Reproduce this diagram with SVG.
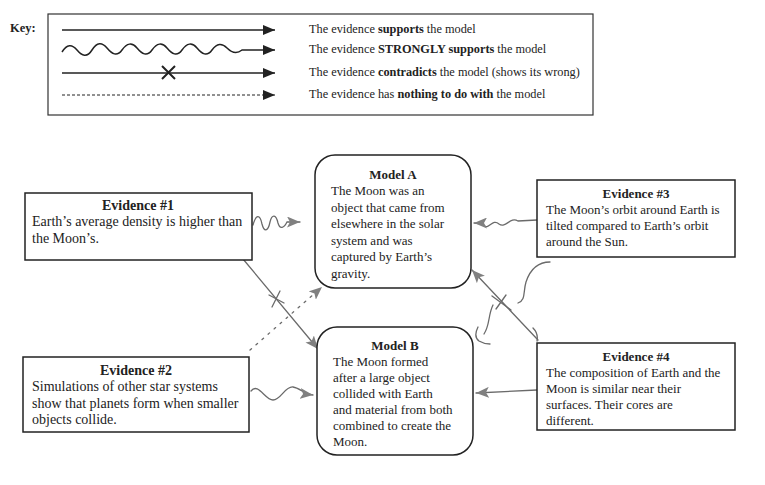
<svg xmlns="http://www.w3.org/2000/svg" width="765" height="485" viewBox="0 0 765 485">
<defs>
<style>
.box{fill:#fff;stroke:#222;stroke-width:1.5}
.t{font-family:"Liberation Serif","Times New Roman",serif;font-size:13px;fill:#222}
.t14{font-size:14px}
.b{font-weight:bold}
.k{font-family:"Liberation Serif","Times New Roman",serif;font-size:12.3px;fill:#222}
.kl{fill:none;stroke:#222;stroke-width:1.5}
.hand{fill:none;stroke:#6a6a6a;stroke-width:1.3;stroke-linecap:round}
</style>
<marker id="ka" markerUnits="userSpaceOnUse" markerWidth="12" markerHeight="10" refX="12" refY="5" orient="auto"><path d="M0,0 L12,5 L0,10 z" fill="#222"/></marker>
<marker id="ha" markerUnits="userSpaceOnUse" markerWidth="13" markerHeight="11" refX="13" refY="5.5" orient="auto"><path d="M0,0 L13,5.5 L0,11 L3,5.5 z" fill="#808080"/></marker>
</defs>
<rect width="765" height="485" fill="#fff"/>

<g id="key">
<text x="10" y="32" class="t b" style="font-size:12.5px">Key:</text>
<rect x="48" y="14" width="545" height="101" fill="none" stroke="#333" stroke-width="1.2"/>
<path class="kl" d="M62,30 L275,30" marker-end="url(#ka)"/>
<path class="kl" d="M62,52 C67,44 72,44 77,50 S87,58 92,50 S102,42 107,48 S117,57 122,50 S132,42 137,48 S147,57 152,50 S162,42 167,48 S177,57 182,50 S192,42 197,48 S207,57 212,50 S222,43 227,48 S237,54 242,50 L275,50" marker-end="url(#ka)"/>
<path class="kl" d="M62,73 L275,73" marker-end="url(#ka)"/>
<path d="M162,66 L175,79 M162,79 L175,66" stroke="#222" stroke-width="2"/>
<path d="M62,95 L275,95" fill="none" stroke="#222" stroke-width="1" stroke-dasharray="3,2" marker-end="url(#ka)"/>
<text x="309" y="33" class="k">The evidence <tspan class="b">supports</tspan> the model</text>
<text x="309" y="53" class="k">The evidence <tspan class="b">STRONGLY supports</tspan> the model</text>
<text x="309" y="76" class="k">The evidence <tspan class="b">contradicts</tspan> the model (shows its wrong)</text>
<text x="309" y="98" class="k">The evidence has <tspan class="b">nothing to do with</tspan> the model</text>
</g>

<g id="connectors">
<path class="hand" d="M253,225 C256,214 260,214 262,224 C264,232 268,232 270,222 C272,214 276,214 278,223 C280,230 284,228 287,222 L300,222" marker-end="url(#ha)"/>
<path class="hand" d="M243,259 L318,349" marker-end="url(#ha)"/>
<path class="hand" d="M269,295 L284,303 M272,307 L280,291" stroke="#555"/>
<path class="hand" d="M250,350 L322,287" stroke="#999" stroke-dasharray="2,6" stroke-width="2" marker-end="url(#ha)"/>
<path class="hand" d="M251,391 C258,382 265,400 273,400 C281,400 285,386 293,387 C300,388 304,394 313,395" marker-end="url(#ha)"/>
<path class="hand" d="M537,220 L518,221 C510,216 506,229 499,224 C492,218 489,231 483,225 C481,223 478,223 474,223" marker-end="url(#ha)"/>
<path class="hand" d="M538,340 L472,270" marker-end="url(#ha)"/>
<path class="hand" d="M492,296 L511,310 M496,309 L506,295" stroke="#555"/>
<path class="hand" d="M550,262 C538,262 530,270 526,282 C523,292 526,300 518,303"/>
<path class="hand" d="M493,305 C488,315 490,325 484,334 M478,327 C475,333 475,338 479,341 C484,344 488,344 490,344 M533,328 C537,332 538,336 537,341"/>
<path class="hand" d="M537,390 L476,393" marker-end="url(#ha)"/>
</g>

<g id="evidence1">
<rect class="box" x="25" y="193" width="227" height="67"/>
<text x="138" y="210" class="t t14 b" text-anchor="middle">Evidence #1</text>
<text x="32" y="226" class="t t14">Earth’s average density is higher than</text>
<text x="32" y="243" class="t t14">the Moon’s.</text>
</g>

<g id="evidence2">
<rect class="box" x="23" y="357" width="226" height="75"/>
<text x="136" y="375" class="t t14 b" text-anchor="middle">Evidence #2</text>
<text x="32" y="391" class="t t14">Simulations of other star systems</text>
<text x="32" y="408" class="t t14">show that planets form when smaller</text>
<text x="32" y="424" class="t t14">objects collide.</text>
</g>

<g id="evidence3">
<rect class="box" x="537" y="180" width="198" height="77"/>
<text x="636" y="198" class="t b" text-anchor="middle">Evidence #3</text>
<text x="546" y="214" class="t">The Moon’s orbit around Earth is</text>
<text x="546" y="230" class="t">tilted compared to Earth’s orbit</text>
<text x="546" y="246" class="t">around the Sun.</text>
</g>

<g id="evidence4">
<rect class="box" x="537" y="343" width="198" height="87"/>
<text x="636" y="361" class="t b" text-anchor="middle">Evidence #4</text>
<text x="546" y="377" class="t">The composition of Earth and the</text>
<text x="546" y="393" class="t">Moon is similar near their</text>
<text x="546" y="409" class="t">surfaces. Their cores are</text>
<text x="546" y="425" class="t">different.</text>
</g>

<g id="modelA">
<rect class="box" x="315" y="155" width="156" height="133" rx="20" ry="20"/>
<text x="393" y="179" class="t b" text-anchor="middle">Model A</text>
<text x="331" y="195" class="t">The Moon was an</text>
<text x="331" y="212" class="t">object that came from</text>
<text x="331" y="228" class="t">elsewhere in the solar</text>
<text x="331" y="245" class="t">system and was</text>
<text x="331" y="261" class="t">captured by Earth’s</text>
<text x="331" y="278" class="t">gravity.</text>
</g>

<g id="modelB">
<rect class="box" x="317" y="327" width="156" height="128" rx="20" ry="20"/>
<text x="395" y="350" class="t b" text-anchor="middle">Model B</text>
<text x="333" y="366" class="t">The Moon formed</text>
<text x="333" y="382" class="t">after a large object</text>
<text x="333" y="398" class="t">collided with Earth</text>
<text x="333" y="414" class="t">and material from both</text>
<text x="333" y="430" class="t">combined to create the</text>
<text x="333" y="446" class="t">Moon.</text>
</g>
</svg>
